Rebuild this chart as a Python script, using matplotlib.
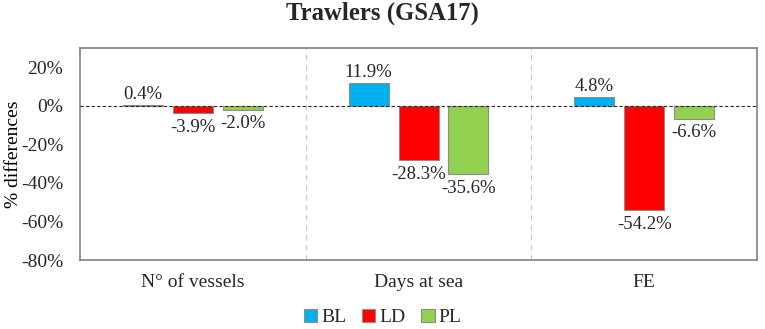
import numpy as np
import matplotlib.pyplot as plt

plt.rcParams['font.family'] = ['Liberation Serif', 'DejaVu Serif']
plt.rcParams['text.color'] = '#262626'

categories = ["N° of vessels", "Days at sea", "FE"]
series = ["BL", "LD", "PL"]
bl = [0.4, 11.9, 4.8]
ld = [-3.9, -28.3, -54.2]
pl = [-2.0, -35.6, -6.6]
colors = ["#00B0F0", "#FF0000", "#92D050"]
yticks = [-80, -60, -40, -20, 0, 20]

fig = plt.figure(figsize=(7.65, 3.29), dpi=100)
ax = fig.add_axes([0.1046, 0.2097, 0.885, 0.644])

x = np.arange(len(categories))
w = 0.177
step = 0.221
for i, (name, vals, col) in enumerate(zip(series, [bl, ld, pl], colors)):
    pos = x + (i - 1) * step
    ax.bar(pos, vals, width=w, color=col, edgecolor="#8c8c8c", linewidth=0.8, label=name, zorder=2)
    for p, v in zip(pos, vals):
        if v >= 0:
            ax.annotate(f"{v:.1f}%", (p, v), xytext=(0, 1.5), textcoords="offset points",
                        ha="center", va="bottom", fontsize=13.5, color="#262626")
        else:
            ax.annotate(f"{v:.1f}%", (p, v), xytext=(0, -4), textcoords="offset points",
                        ha="center", va="top", fontsize=13.5, color="#262626")

ax.axhline(0, color="#262626", linestyle=(0, (3, 2)), linewidth=0.8, zorder=3)
for d in [0.5, 1.5]:
    ax.axvline(d, color="#c8c8c8", linestyle=(0, (5, 4)), linewidth=0.8, zorder=1)

ax.set_xlim(-0.5, 2.5)
ax.set_ylim(-80, 30)
ax.set_yticks(yticks)
ax.set_yticklabels([f"{t}%" for t in yticks], fontsize=14)
ax.set_xticks(x)
ax.set_xticklabels(categories, fontsize=14)
ax.tick_params(length=0, pad=12, labelcolor="#262626")
ax.tick_params(axis='x', pad=10)
for s in ax.spines.values():
    s.set_color("#808080")
    s.set_linewidth(1.2)
ax.set_ylabel("% differences", fontsize=14)
ax.yaxis.set_label_coords(-0.085, 0.5)

fig.suptitle("Trawlers (GSA17)", fontsize=17.8, fontweight="bold", y=0.995)
fig.legend(loc="lower center", ncol=3, frameon=False, fontsize=14, bbox_to_anchor=(0.5, -0.045),
           handlelength=0.7, handleheight=0.7, handletextpad=0.2, columnspacing=0.8)

fig.savefig("out.png", dpi=100)
